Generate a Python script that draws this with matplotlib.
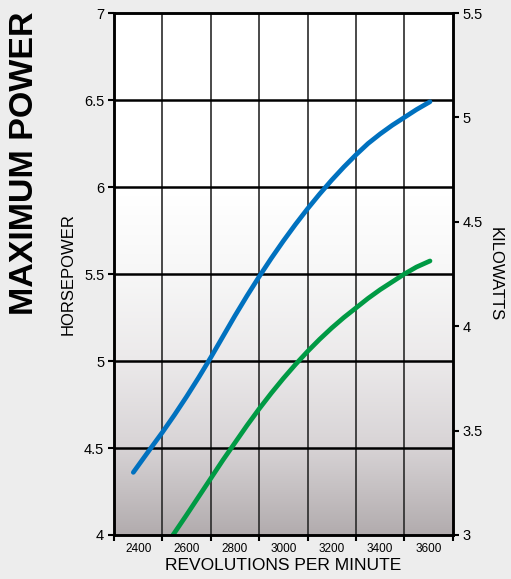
import numpy as np
import matplotlib
matplotlib.use('Agg')
import matplotlib.pyplot as plt
from matplotlib.colors import LinearSegmentedColormap

plt.rcParams['font.family'] = ['Liberation Sans', 'DejaVu Sans']

# data (horsepower scale)
rpm_hp = [2380, 2450, 2500, 2550, 2600, 2650, 2700, 2750, 2800, 2850, 2900, 2950,
          3000, 3050, 3100, 3150, 3200, 3250, 3300, 3350, 3400, 3450, 3500, 3550, 3606]
hp_blue = [4.36, 4.495, 4.59, 4.69, 4.795, 4.905, 5.02, 5.14, 5.26, 5.375, 5.485, 5.59,
           5.69, 5.785, 5.875, 5.96, 6.04, 6.115, 6.185, 6.25, 6.305, 6.355, 6.40, 6.445, 6.49]

rpm_kw = [2544, 2600, 2650, 2700, 2750, 2800, 2850, 2900, 2950, 3000, 3050, 3100,
          3150, 3200, 3250, 3300, 3350, 3400, 3450, 3500, 3550, 3606]
hp_green = [4.00, 4.115, 4.22, 4.325, 4.43, 4.53, 4.63, 4.725, 4.815, 4.90, 4.98, 5.055,
            5.125, 5.19, 5.25, 5.305, 5.36, 5.41, 5.455, 5.50, 5.54, 5.575]

rpm_labels = [2400, 2600, 2800, 3000, 3200, 3400, 3600]
rpm_grid = [2300, 2500, 2700, 2900, 3100, 3300, 3500, 3700]
hp_ticks = [4, 4.5, 5, 5.5, 6, 6.5, 7]
kw_ticks = [3, 3.5, 4, 4.5, 5, 5.5]

fig = plt.figure(figsize=(5.11, 5.79), dpi=100, facecolor='#ededed')
ax = fig.add_axes([0.223, 0.076, 0.663, 0.9015])

# background gradient
cmap = LinearSegmentedColormap.from_list('bg', [(0.0, '#b2acae'), (0.17, '#d8d4d6'),
                                                (0.33, '#ebe9ea'), (0.5, '#f7f7f7'),
                                                (0.65, '#ffffff'), (1.0, '#ffffff')])
grad = np.linspace(0, 1, 256).reshape(-1, 1)
ax.imshow(grad, extent=[2300, 3700, 4, 7], origin='lower', aspect='auto',
          cmap=cmap, zorder=0)

ax.set_xlim(2300, 3700)
ax.set_ylim(4, 7)

for x in rpm_grid[1:-1]:
    ax.axvline(x, color='#2a2a2a', lw=1.2, zorder=1)
for y in hp_ticks[1:-1]:
    ax.axhline(y, color='black', lw=1.8, zorder=1)

ax.plot(rpm_hp, hp_blue, color='#0071bf', lw=3.4, solid_capstyle='round',
        solid_joinstyle='round', zorder=3)
ax.plot(rpm_kw, hp_green, color='#009a44', lw=3.4, solid_capstyle='round',
        solid_joinstyle='round', zorder=3)

ax.set_xticks(rpm_grid)
ax.set_xticklabels([])
ax.set_xticks(rpm_labels, minor=True)
ax.set_xticklabels([str(v) for v in rpm_labels], minor=True, fontsize=8.5)
ax.tick_params(axis='x', which='major', length=4, width=1.5, direction='out')
ax.tick_params(axis='x', which='minor', length=0, pad=6)

ax.set_yticks(hp_ticks)
ax.set_yticklabels(['4', '4.5', '5', '5.5', '6', '6.5', '7'], fontsize=10.5)
ax.tick_params(axis='y', length=4, width=1.5, direction='out', pad=3)

for s in ax.spines.values():
    s.set_linewidth(1.8)
    s.set_zorder(4)

ax2 = ax.twinx()
ax2.set_ylim(3, 5.5)
ax2.set_yticks(kw_ticks)
ax2.set_yticklabels(['3', '3.5', '4', '4.5', '5', '5.5'], fontsize=10.5)
ax2.tick_params(axis='y', length=4, width=1.5, direction='out', pad=3)
for s in ax2.spines.values():
    s.set_linewidth(1.8)

ax.set_xlabel('REVOLUTIONS PER MINUTE', fontsize=12.5, labelpad=2)
ax.set_ylabel('HORSEPOWER', fontsize=12, labelpad=6)
ax2.set_ylabel('KILOWATTS', fontsize=12, rotation=270, labelpad=14)

fig.text(0.047, 0.718, 'MAXIMUM POWER', rotation=90, fontsize=24.5, fontweight='bold',
         ha='center', va='center')

fig.savefig('out.png', dpi=100, facecolor=fig.get_facecolor())
